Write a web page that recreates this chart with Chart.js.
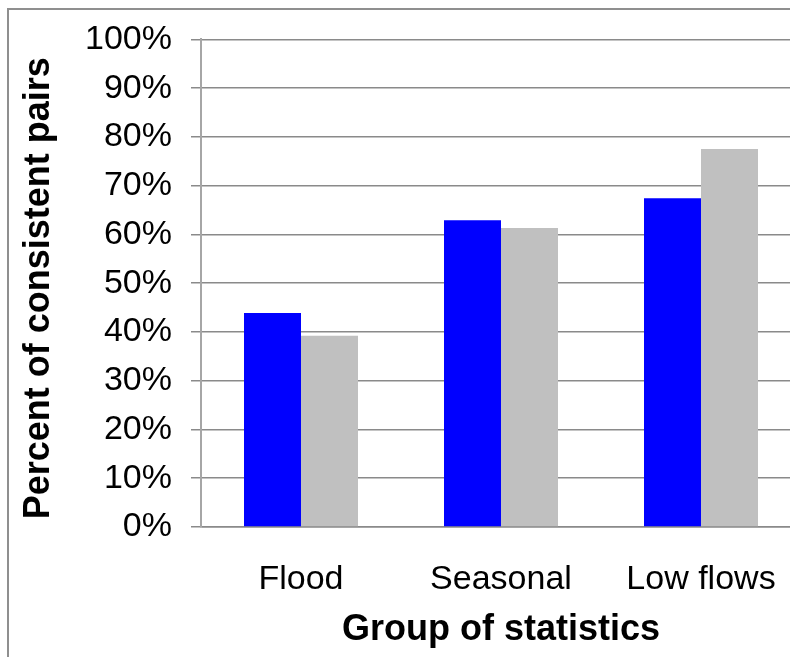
<!DOCTYPE html>
<html>
<head>
<meta charset="utf-8">
<script src="https://cdn.jsdelivr.net/npm/chart.js@4/dist/chart.umd.min.js"></script>
<style>
  html, body { margin: 0; padding: 0; background: #fff; overflow: hidden; width: 790px; height: 657px; }
  #frame { position: absolute; left: 7px; top: 8px; width: 1000px; height: 1000px; border: 2px solid #8f8f8f; box-sizing: border-box; }
  #wrap { position: absolute; left: 0; top: 0; width: 850px; height: 657px; }
</style>
</head>
<body>
<div id="frame"></div>
<div id="wrap"><canvas id="chart" width="850" height="657"></canvas></div>
<script>
// Share of consistent pairs, by group of flow statistics
const categories = ['Flood', 'Seasonal', 'Low flows'];
const seriesA = [43.9, 62.9, 67.4];
const seriesB = [39.2, 61.3, 77.5];
const yTicks = [0, 10, 20, 30, 40, 50, 60, 70, 80, 90, 100];

const FONT = '"Liberation Sans", Arial, sans-serif';

new Chart(document.getElementById('chart'), {
  type: 'bar',
  data: {
    labels: categories,
    datasets: [
      { data: seriesA, backgroundColor: '#0000ff', borderWidth: 0 },
      { data: seriesB, backgroundColor: '#c0c0c0', borderWidth: 0 }
    ]
  },
  options: {
    responsive: false,
    animation: false,
    categoryPercentage: 0.57,
    barPercentage: 1.0,
    layout: { padding: { left: 10, right: 49, top: 35, bottom: 5 } },
    plugins: { legend: { display: false }, tooltip: { enabled: false } },
    scales: {
      x: {
        grid: { display: false, drawTicks: false },
        border: { display: true, color: '#8a8a8a', width: 1.5 },
        ticks: { color: '#000', font: { family: FONT, size: 34 }, padding: 32, maxRotation: 0, autoSkip: false },
        title: { display: true, text: 'Group of statistics', color: '#000', font: { family: FONT, size: 36, weight: 'bold' }, padding: { top: 0, bottom: 0 } },
        afterFit: (s) => { s.height = 125; }
      },
      y: {
        min: 0,
        max: 100,
        afterBuildTicks: (s) => { s.ticks = yTicks.map(v => ({ value: v })); },
        grid: { color: '#8a8a8a', lineWidth: 1.5, tickLength: 10, tickColor: '#8a8a8a', drawTicks: true },
        border: { display: true, color: '#a6a6a6', width: 2 },
        ticks: { color: '#000', font: { family: FONT, size: 34 }, padding: 19, callback: (v) => v + '%' },
        title: { display: true, text: 'Percent of consistent pairs ', color: '#000', font: { family: FONT, size: 36, weight: 'bold' }, padding: { top: 7, bottom: 0 } },
        afterFit: (s) => { s.width = 191; }
      }
    }
  }
});
</script>
</body>
</html>
